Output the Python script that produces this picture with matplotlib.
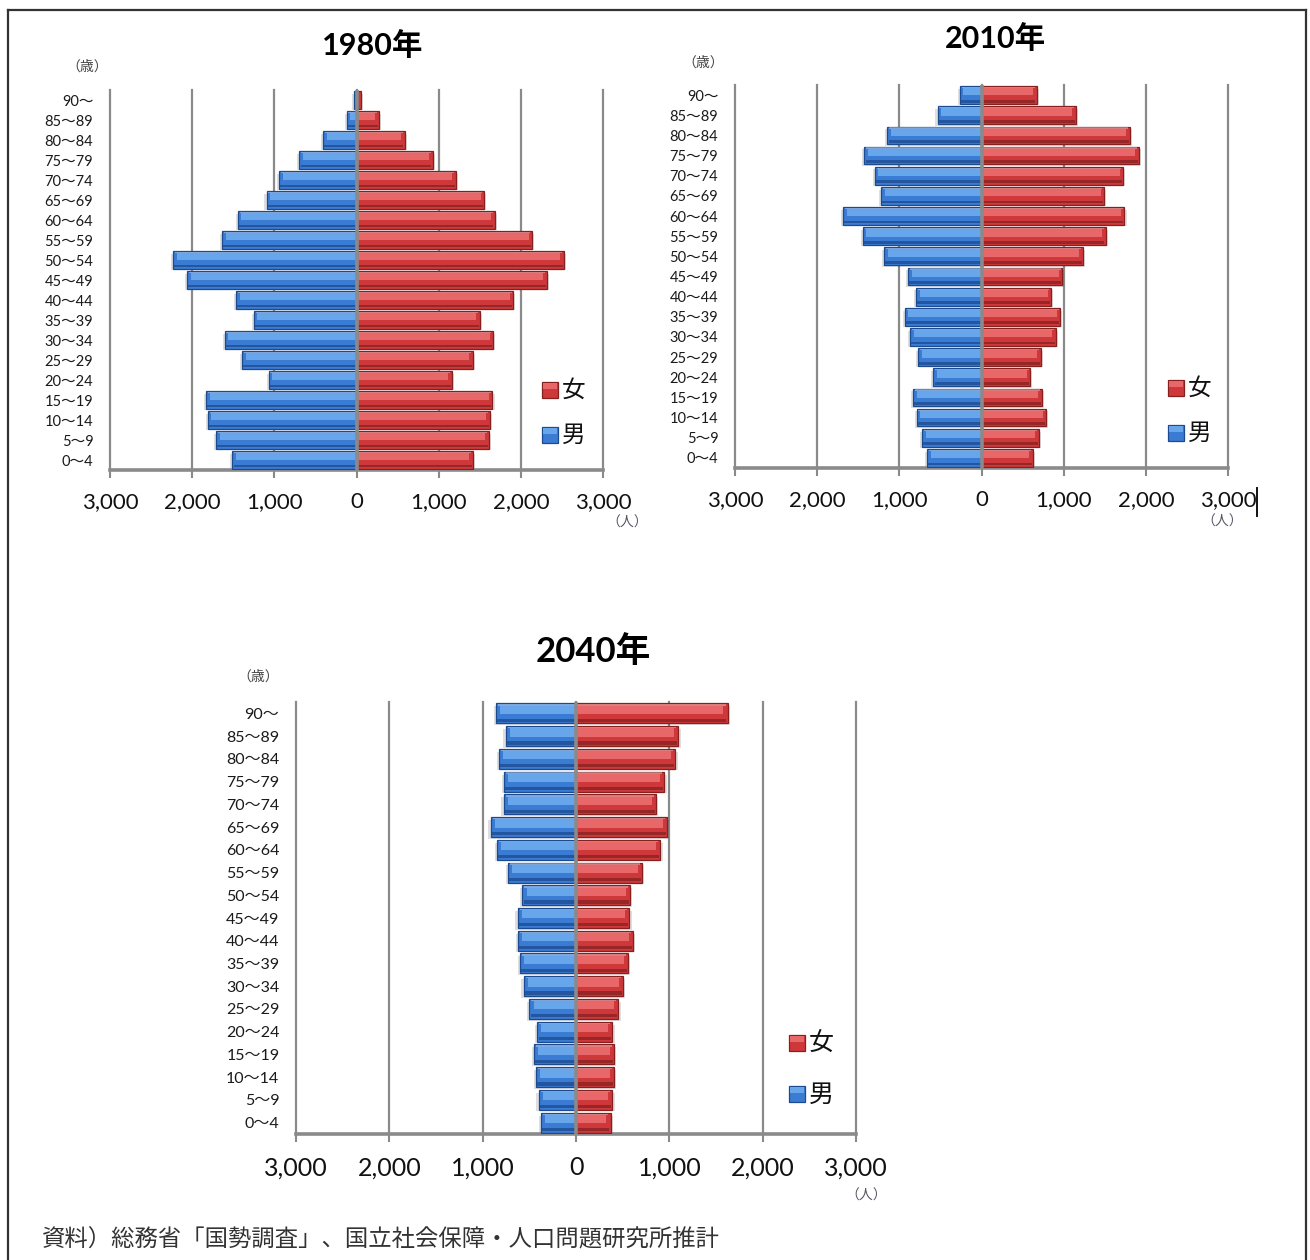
import matplotlib

matplotlib.use("Agg")
import matplotlib.pyplot as plt
from matplotlib.lines import Line2D
from matplotlib.patches import Rectangle
import numpy as np

plt.rcParams["font.family"] = ["Lato", "Noto Sans CJK JP", "DejaVu Sans"]

W, H = 1310, 1260

# age groups, youngest first (bottom row)
ages = ["0～4", "5～9", "10～14", "15～19", "20～24", "25～29", "30～34",
        "35～39", "40～44", "45～49", "50～54", "55～59", "60～64", "65～69",
        "70～74", "75～79", "80～84", "85～89", "90～"]

male_1980 = [1510, 1710, 1810, 1830, 1070, 1390, 1605, 1250, 1465, 2065,
             2235, 1635, 1445, 1095, 940, 695, 405, 120, 30]
female_1980 = [1415, 1610, 1620, 1655, 1160, 1415, 1665, 1505, 1910, 2315,
               2525, 2140, 1680, 1555, 1210, 925, 585, 270, 50]

male_2010 = [660, 725, 790, 830, 585, 770, 870, 935, 795, 895,
             1185, 1445, 1685, 1220, 1300, 1425, 1145, 535, 265]
female_2010 = [625, 700, 790, 735, 595, 720, 905, 960, 850, 985,
               1235, 1510, 1740, 1495, 1725, 1915, 1805, 1150, 670]

male_2040 = [375, 400, 430, 450, 415, 500, 560, 600, 620, 625,
             575, 730, 845, 915, 775, 770, 825, 755, 855]
female_2040 = [370, 390, 405, 405, 390, 455, 505, 555, 610, 570,
               580, 705, 905, 975, 855, 945, 1065, 1095, 1625]

xticks = [-3000, -2000, -1000, 0, 1000, 2000, 3000]
xtick_labels = ["3,000", "2,000", "1,000", "0", "1,000", "2,000", "3,000"]

# base, upper highlight, lower shade
BLUE = ("#3a7cd4", "#68a6ec", "#1c4a8e")
RED = ("#cf383b", "#e8686a", "#85201f")
GRID = "#8a8a8a"


def fx(px):
    return px / W


def fy(py):
    return 1 - py / H


def bevel_barh(ax, values, sign, colors):
    base, light, dark = colors
    y = np.arange(len(values))
    v = sign * np.asarray(values, dtype=float)
    inset = sign * 45.0
    # soft drop shadow at the outer end
    ax.barh(y - 0.1, v + sign * 25, height=0.82, color="#000000",
            alpha=0.13, linewidth=0, zorder=2)
    ax.barh(y, v, height=0.88, color=base, edgecolor=dark,
            linewidth=0.9, zorder=3)
    # highlight band and darker lower edge
    ax.barh(y + 0.16, v - inset, height=0.36, color=light,
            linewidth=0, zorder=4)
    ax.barh(y + 0.37, v - inset * 0.5, height=0.06, color="#ffffff",
            alpha=0.35, linewidth=0, zorder=4)
    ax.barh(y - 0.3, v - inset * 0.3, height=0.14, color=dark, alpha=0.75,
            linewidth=0, zorder=4)


def pyramid(rect, male, female, ylab_size, xlab_size):
    left, top, right, bottom = rect
    ax = fig.add_axes([fx(left), fy(bottom), fx(right - left),
                       (bottom - top) / H])
    for x in xticks:
        ax.axvline(x, color=GRID, lw=1.6, zorder=1, clip_on=False)
    bevel_barh(ax, male, -1, BLUE)
    bevel_barh(ax, female, 1, RED)
    ax.axvline(0, color=GRID, lw=2.6, zorder=6)
    ax.set_xlim(-3000, 3000)
    ax.set_ylim(-0.5, len(ages) - 0.5)
    ax.set_yticks(range(len(ages)))
    ax.set_yticklabels(ages, fontsize=ylab_size, color="#1a1a1a")
    ax.set_xticks(xticks)
    ax.set_xticklabels(xtick_labels, fontsize=xlab_size, color="#111111")
    ax.tick_params(axis="y", length=0, pad=12)
    ax.tick_params(axis="x", length=6, width=1.5, color=GRID, pad=10)
    for side in ["top", "right", "left"]:
        ax.spines[side].set_visible(False)
    ax.spines["bottom"].set_color(GRID)
    ax.spines["bottom"].set_linewidth(2.6)
    ax.set_facecolor("white")
    return ax


def legend_box(x, y_f, y_m, size, s=16):
    for yy, colors, lab in [(y_f, RED, "女"), (y_m, BLUE, "男")]:
        fig.add_artist(Rectangle((fx(x - s / 2), fy(yy + s / 2)), s / W, s / H,
                                 facecolor=colors[0], edgecolor=colors[2],
                                 linewidth=0.9, transform=fig.transFigure))
        fig.add_artist(Rectangle((fx(x - s / 2 + 1), fy(yy - 1)), (s - 2) / W,
                                 6 / H, facecolor=colors[1], linewidth=0,
                                 transform=fig.transFigure))
        fig.text(fx(x + s / 2 + 4), fy(yy), lab, fontsize=size, ha="left",
                 va="center", color="#111111")


fig = plt.figure(figsize=(W / 100, H / 100), dpi=100)
fig.patch.set_facecolor("white")

pyramid((110, 90, 603, 470), male_1980, female_1980, 10.5, 16)
pyramid((735, 85, 1228, 468), male_2010, female_2010, 10.5, 16)
pyramid((296, 702, 856, 1134), male_2040, female_2040, 11.5, 18)

fig.text(fx(373), fy(45), "1980年", fontsize=22, fontweight="bold",
         ha="center", va="center")
fig.text(fx(995), fy(38), "2010年", fontsize=22, fontweight="bold",
         ha="center", va="center")
fig.text(fx(593), fy(652), "2040年", fontsize=25, fontweight="bold",
         ha="center", va="center")

for x, y in [(87, 66), (703, 62), (258, 676)]:
    fig.text(fx(x), fy(y), "（歳）", fontsize=10, ha="center", va="center",
             color="#444444")
for x, y in [(627, 522), (1222, 521), (866, 1195)]:
    fig.text(fx(x), fy(y), "（人）", fontsize=10, ha="center", va="center",
             color="#555566")

legend_box(550, 390, 435, 17)
legend_box(1176, 388, 433, 17)
legend_box(797, 1043, 1094, 18)

fig.text(fx(42), fy(1240), "資料）総務省「国勢調査」、国立社会保障・人口問題研究所推計",
         fontsize=16.8, ha="left", va="center", color="#333333",
         family=["Noto Sans CJK JP", "DejaVu Sans"])

# outer frame and the stray caret next to the 2010 axis
frame = dict(color="#333333", lw=1.6, transform=fig.transFigure)
fig.add_artist(Line2D([fx(8), fx(1306)], [fy(10), fy(10)], **frame))
fig.add_artist(Line2D([fx(8), fx(8)], [fy(10), 0], **frame))
fig.add_artist(Line2D([fx(1306), fx(1306)], [fy(10), 0], **frame))
fig.add_artist(Line2D([fx(1257), fx(1257)], [fy(488), fy(516)],
                      color="#111111", lw=1.4, transform=fig.transFigure))

fig.savefig("out.png", dpi=100)
